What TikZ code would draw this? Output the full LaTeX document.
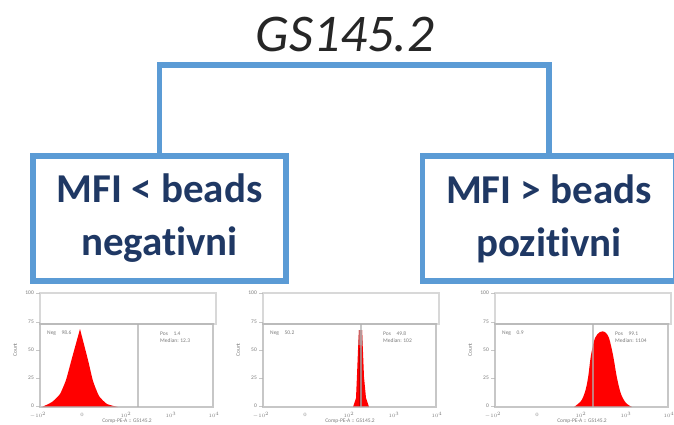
\documentclass[tikz,border=0pt]{standalone}
\usepackage{fontspec}
\setmainfont{Carlito}[Ligatures={NoCommon}, RawFeature={-liga}]
\definecolor{boxblue}{HTML}{5B9BD5}
\definecolor{navy}{HTML}{1F3864}
\definecolor{axisgray}{HTML}{B0B0B0}
\definecolor{bandgray}{HTML}{D8D8D8}
\definecolor{ticktext}{HTML}{7C7C7C}
\definecolor{dullred}{HTML}{C86464}
\definecolor{darkred}{HTML}{C00000}
\tikzset{
  decisionbox/.style={draw=boxblue, line width=5.5pt, minimum width=253pt, minimum height=125pt,
    inner sep=0pt, align=center, font=\fontsize{41}{53}\selectfont\bfseries, text=navy},
  link/.style={draw=boxblue, line width=5.5pt},
  titletext/.style={font=\fontsize{53}{60}\selectfont\itshape, text=black!85, inner sep=0pt},
  axisline/.style={draw=axisgray, line width=2.5pt, opacity=0.7},
  bandline/.style={draw=bandgray, line width=2.5pt},
  tinytext/.style={font=\fontsize{5.5}{6.5}\selectfont, text=ticktext, inner sep=0pt},
  peak/.style={fill=red, draw=none},
}
\newcommand\facsframe[4]{%
  \begin{scope}[shift={(#1,0)}]
    \draw[bandline] (40,293) rectangle (216,324);
    \draw[axisline] (40,324) rectangle (213,407);
    \draw[axisline, line width=2pt] (138,324) -- (138,407);
    \foreach \yy/\lab in {293/100,322/75,350/50,378/25,406/0}{
      \draw[axisline, line width=1pt] (36,\yy) -- (40,\yy);
      \node[tinytext, anchor=east] at (34,\yy) {\lab};
    }
    \foreach \xx/\lab in {38/$-10^{2}$,82/$0$,126/$10^{2}$,171/$10^{3}$,214/$10^{4}$}{
      \node[tinytext] at (\xx,415) {\lab};
    }
    \node[tinytext, rotate=90] at (15,350) {Count};
    \node[tinytext] at (127,421) {Comp-PE-A :: GS145.2};
    \node[tinytext, anchor=west] at (47,333) {#2};
    \node[tinytext, anchor=west, align=left] at (160,337) {#3\\#4};
  \end{scope}}
\begin{document}
\begin{tikzpicture}[x=1pt, y=-1pt]
  \useasboundingbox (0,0) rectangle (674,424);
  \fill[white] (0,0) rectangle (674,424);

  % title and decision boxes
  \node[titletext] (title) at (345,35) {GS145.2};
  \node[decisionbox] (lbox) at (159.5,218.5) {MFI < beads\\negativni};
  \node[decisionbox] (rbox) at (549,218.5) {MFI > beads\\pozitivni};
  \coordinate (bend) at (354,65);
  \draw[link] (lbox.north) |- (bend) -| (rbox.north);

  % red peaks (drawn before frames)
  \fill[peak] (42,407) -- plot[smooth, tension=0.3] coordinates {(42,407) (52,402) (60,394) (66,380) (72,358) (80,329)}
     -- plot[smooth, tension=0.3] coordinates {(80,329) (88,360) (93,381) (99,396) (107,404) (118,407)} -- cycle;
  \fill[peak] (353,407) -- (356,398) -- (357,375) -- (358,350) -- (359,330) -- (362,330) -- (363,352) -- (364,377) -- (366,398) -- (369,407) -- cycle;
  \fill[dullred] (358.2,345) -- (359,330) -- (362,330) -- (362.7,345) -- cycle;
  \draw[darkred, line width=2.5pt] (360.5,348) -- (360.5,407);
  \fill[peak] (574,407) -- plot[smooth, tension=0.5] coordinates {(574,407) (581,401) (585,392) (588,378) (591,355) (595,338) (600,332) (605,332) (609,338) (613,355) (617,378) (621,394) (626,403) (632,407)} -- cycle;

  % histogram frames
  \facsframe{0}{Neg \;\; 98.6}{Pos \;\; 1.4}{Median: 12.3}
  \facsframe{223}{Neg \;\; 50.2}{Pos \;\; 49.8}{Median: 102}
  \facsframe{455}{Neg \;\; 0.9}{Pos \;\; 99.1}{Median: 1104}
\end{tikzpicture}
\end{document}
